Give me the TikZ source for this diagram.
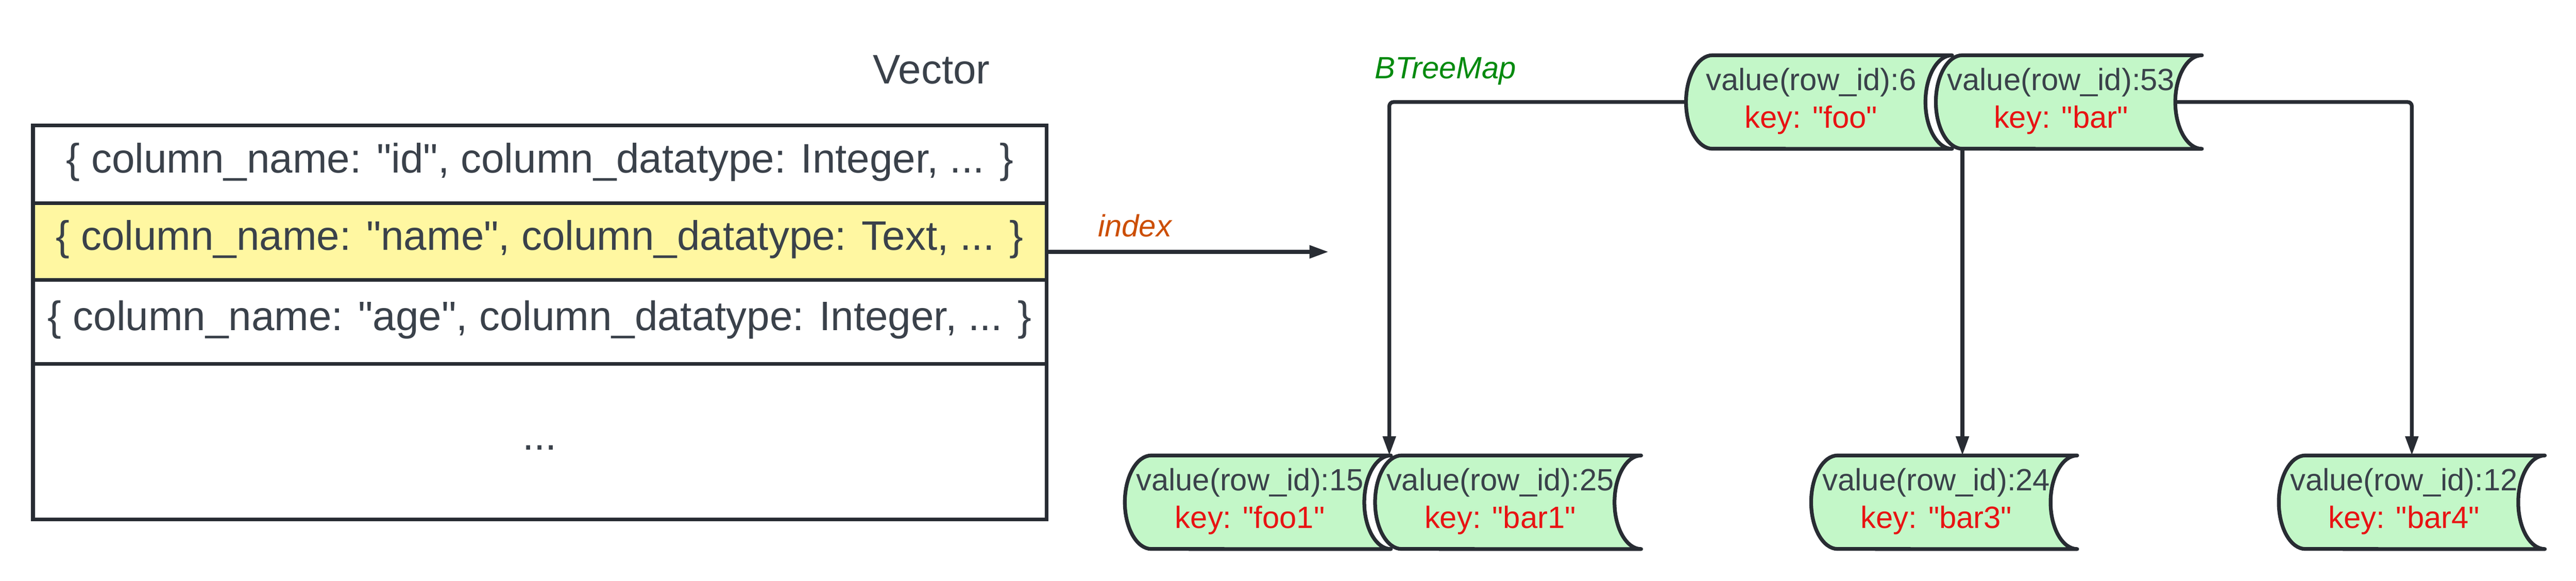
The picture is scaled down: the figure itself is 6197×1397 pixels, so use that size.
\documentclass[tikz,border=0pt]{standalone}
\usepackage{fontspec}
\setmainfont{Liberation Sans}
\newfontfamily\lsf{Liberation Sans}
\usetikzlibrary{arrows.meta}
\definecolor{linec}{HTML}{282C33}
\definecolor{txtc}{HTML}{3A414A}
\definecolor{keyred}{HTML}{E81313}
\definecolor{mapgreen}{HTML}{008A0E}
\definecolor{idxorange}{HTML}{CC4E00}
\definecolor{cylfill}{HTML}{C3F7C8}
\definecolor{rowyellow}{HTML}{FFF7A1}
\newcommand\bigfont{\lsf\fontsize{28.17pt}{33.8pt}\selectfont}
\newcommand\smallfont{\lsf\fontsize{21.06pt}{25.3pt}\selectfont}
\tikzset{
  cylshape/.style={draw=linec, line width=0.09cm, fill=cylfill, line join=round},
  cylnode/.style={minimum width=6.4cm, inner sep=0pt, outer sep=0pt},
  valtext/.style={anchor=base, text=txtc, font=\smallfont, inner sep=0pt},
  keytext/.style={anchor=base, text=keyred, font=\smallfont, inner sep=0pt},
  rowbox/.style={draw=linec, line width=0.09cm, minimum width=24.37cm, inner sep=0pt, outer sep=0pt, text=txtc, font=\bigfont, text height=0.6cm, text depth=0.2cm},
  conn/.style={draw=linec, line width=0.09cm, rounded corners=0.1cm, -{Triangle[length=0.46cm,width=0.30cm]}},
  lbl/.style={anchor=base, inner sep=0pt},
}
\newcommand\drawcyl[6]{%
  \pgfmathsetmacro\cylL{#2}%
  \pgfmathsetmacro\cylR{#2+640}%
  \pgfmathsetmacro\cylT{-#3}%
  \pgfmathsetmacro\cylB{-#4}%
  \pgfmathsetmacro\cylM{-(#3+#4)/2}%
  \pgfmathsetmacro\cylH{(#4-#3)/200}%
  \pgfmathsetmacro\cylHt{(#4-#3)/100}%
  \draw[cylshape] (\cylL+64,\cylT) -- (\cylR,\cylT)
     arc[start angle=90,end angle=270,x radius=0.64cm,y radius=\cylH cm]
     -- (\cylL+64,\cylB)
     arc[start angle=270,end angle=90,x radius=0.64cm,y radius=\cylH cm] -- cycle;
  \node[cylnode, minimum height=\cylHt cm] (#1) at (\cylL+320,\cylM) {};
  \node[valtext] (#1v) at (\cylL+301,\cylM+28) {#5};
  \node[keytext] (#1k) at (\cylL+301,\cylM-62) {#6};
}
\begin{document}
\begin{tikzpicture}[x=0.01cm, y=0.01cm]
\useasboundingbox (0,0) rectangle (6197,-1397);
% table
\node[rowbox, minimum height=1.87cm] (r1) at (1298.5,-395.5) {\{ column\_name: "id", column\_datatype: Integer, ... \}};
\node[rowbox, fill=rowyellow, minimum height=1.85cm] (r2) at (1298.5,-581.5) {\{ column\_name: "name", column\_datatype: Text, ... \}};
\node[rowbox, minimum height=2.02cm] (r3) at (1298.5,-775) {\{ column\_name: "age", column\_datatype: Integer, ... \}};
\node[rowbox, minimum height=3.74cm] (r4) at (1298.5,-1063) {...};
% labels
\node[lbl, font=\bigfont, text=txtc] (vec) at (2241,-202) {Vector};
\node[lbl, font=\smallfont\itshape, text=mapgreen] (btm) at (3477,-189) {BTreeMap};
\node[lbl, font=\smallfont\itshape, text=idxorange] (idx) at (2730,-570) {index};
% cylinders
\drawcyl{c1}{4056}{133}{358}{value(row\_id):6}{key: "foo"}
\drawcyl{c2}{4657}{133}{358}{value(row\_id):53}{key: "bar"}
\drawcyl{f1}{2706}{1096}{1321}{value(row\_id):15}{key: "foo1"}
\drawcyl{b1}{3308}{1096}{1321}{value(row\_id):25}{key: "bar1"}
\drawcyl{b3}{4357}{1096}{1321}{value(row\_id):24}{key: "bar3"}
\drawcyl{b4}{5482}{1096}{1321}{value(row\_id):12}{key: "bar4"}
% connectors
\coordinate (ftop) at ([xshift=-0.04cm]f1.north east);
\draw[conn] (c1.west) -| (ftop);
\coordinate (c2b) at ([xshift=0.64cm]c2.south west);
\draw[conn] (c2b) -- (c2b |- b3.north);
\coordinate (c2r) at ([xshift=-0.64cm]c2.east);
\draw[conn] (c2r) -| (b4.north);
\coordinate (ixend) at (3196,-606);
\draw[conn] (r2.east |- ixend) -- (ixend);
\end{tikzpicture}
\end{document}
